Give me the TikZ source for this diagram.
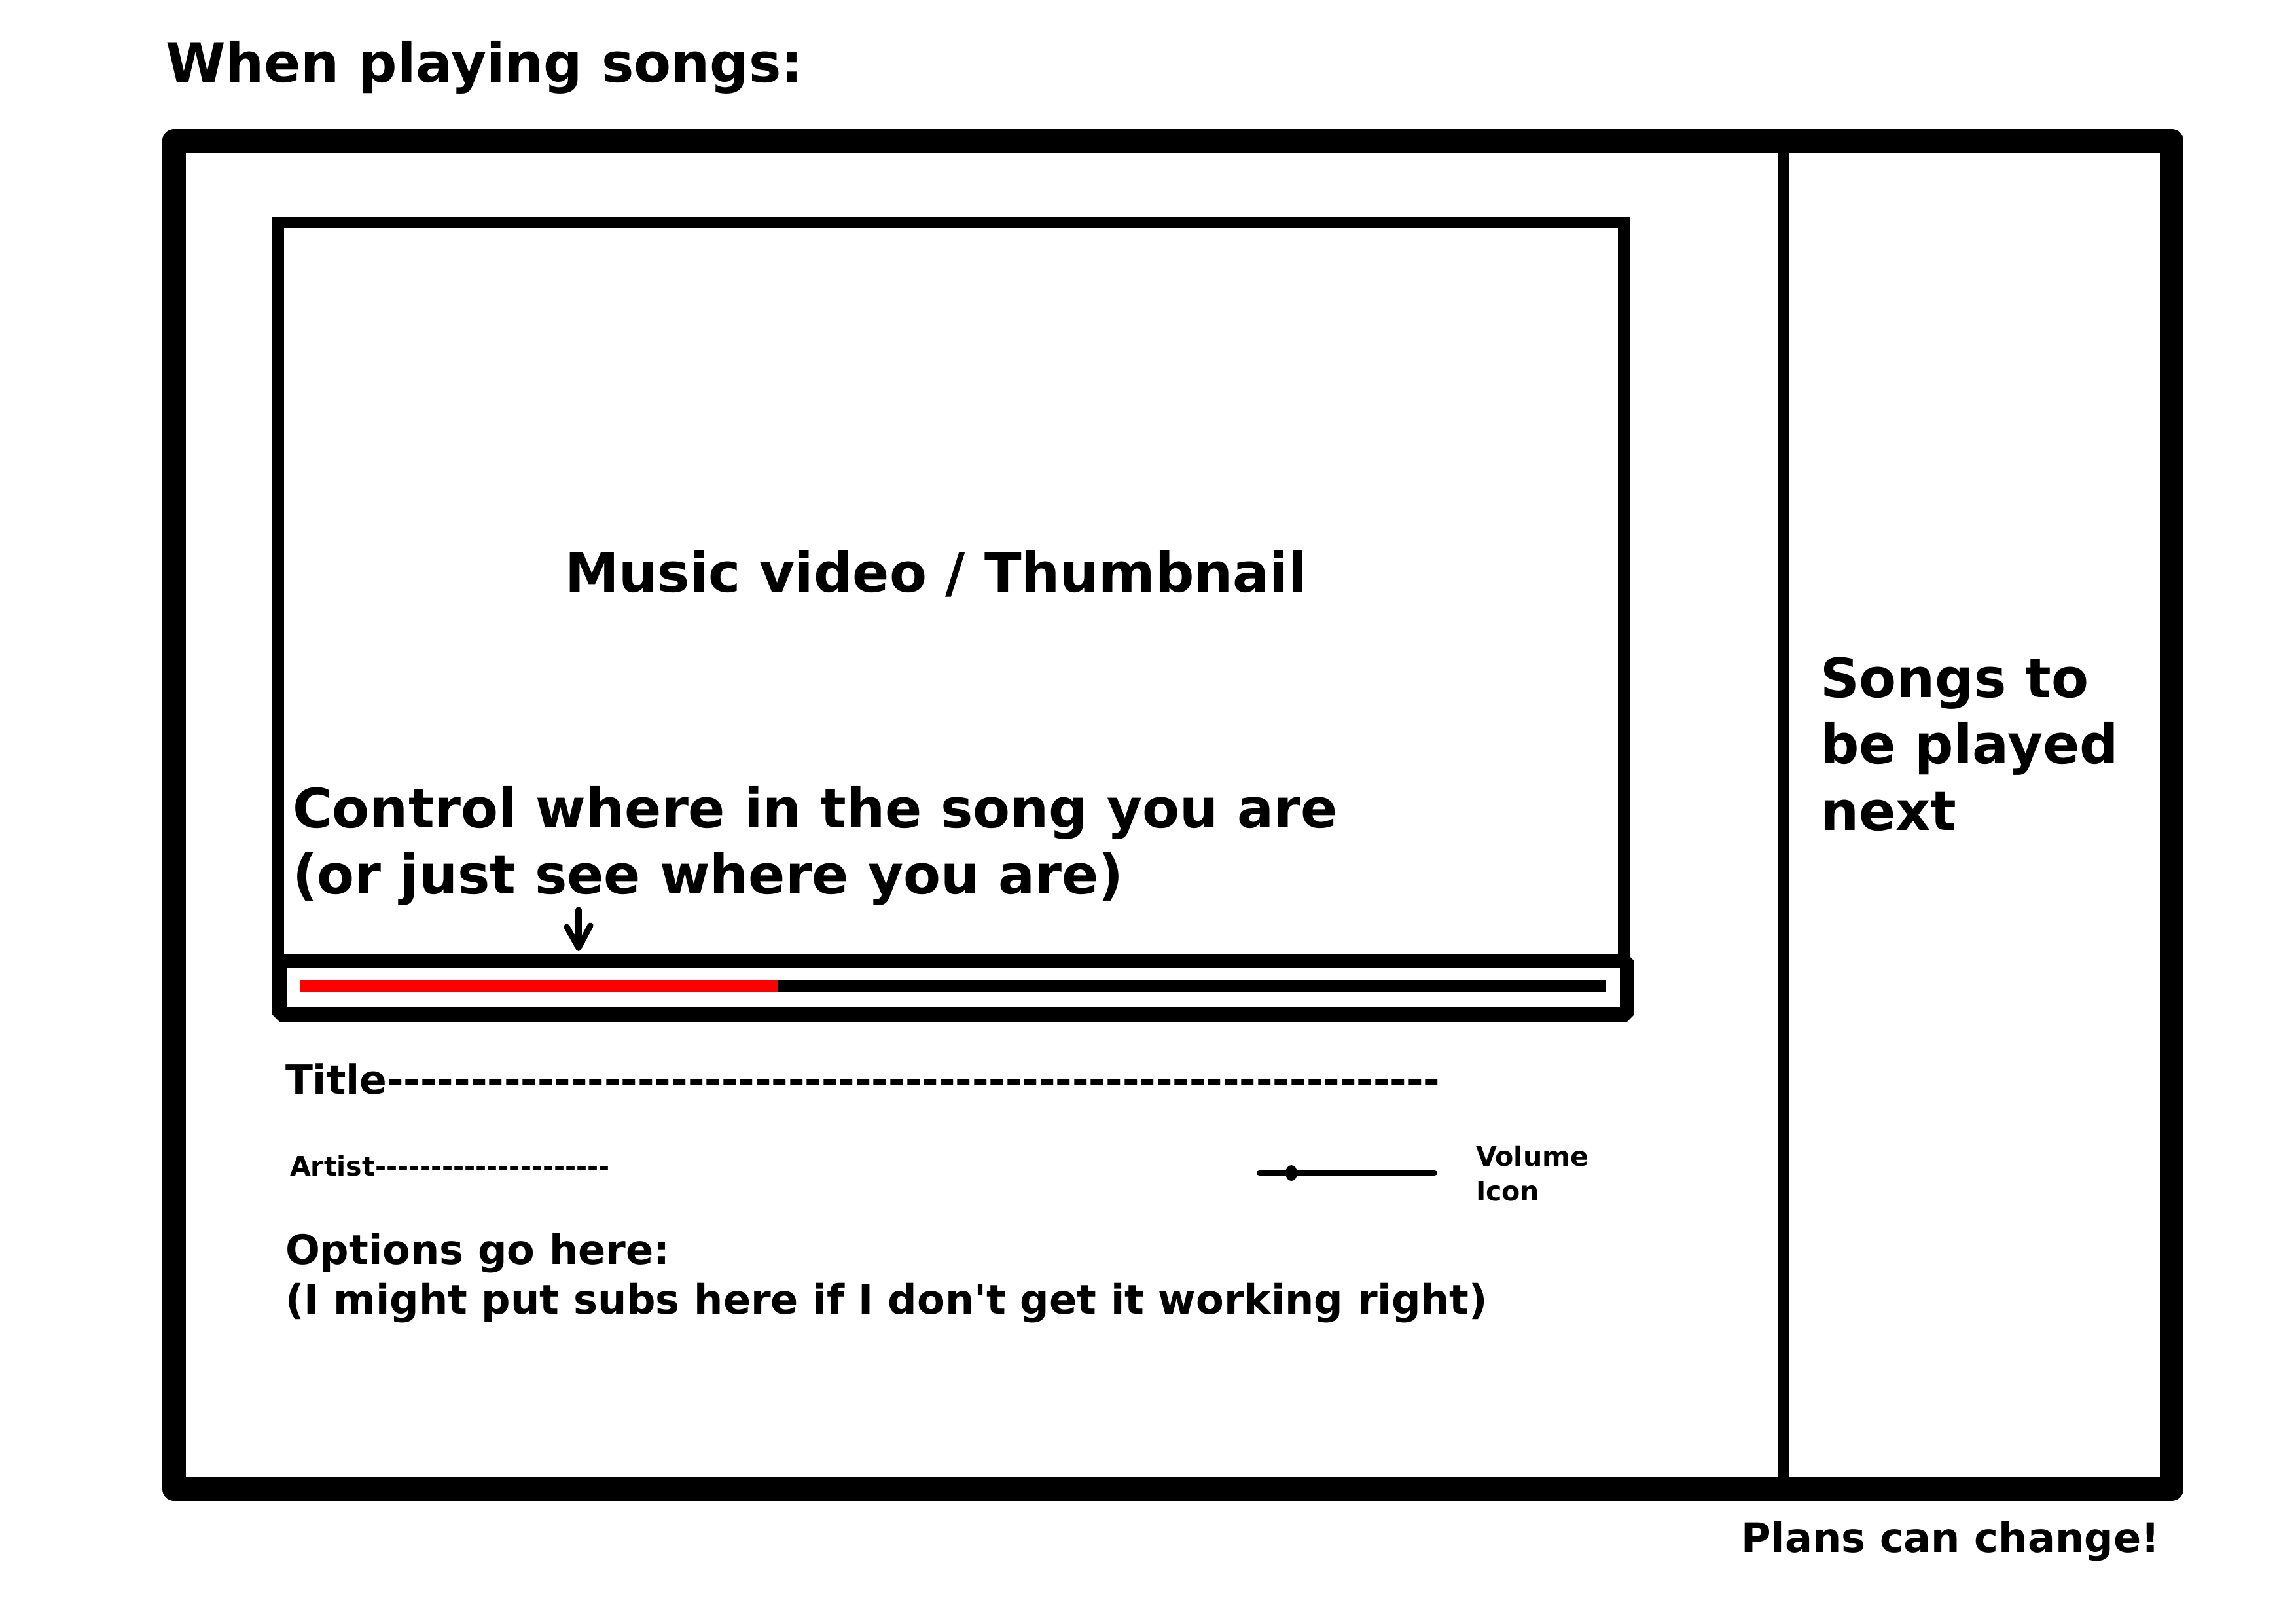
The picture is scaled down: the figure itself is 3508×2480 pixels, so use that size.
\documentclass[tikz,border=0pt]{standalone}
\usepackage{fontspec}
\newfontfamily\dvs{DejaVu Sans}
\begin{document}
\begin{tikzpicture}[x=0.01cm,y=-0.01cm,
  lbl/.style={inner sep=0pt,outer sep=0pt,anchor=base west},
  big/.style={lbl,font=\fontsize{23.6}{28}\dvs\bfseries},
  mid/.style={lbl,font=\fontsize{17.7}{21}\dvs\bfseries},
  small/.style={lbl,font=\fontsize{11.7}{14}\dvs\bfseries},
  frame/.style={line width=10.2pt,line join=round},
  boxline/.style={line width=5.1pt},
  barline/.style={line width=5.1pt}]
\useasboundingbox[fill=white] (0,0) rectangle (3508,2480);
% heading
\node[big] (heading) at (253,125) {When playing songs:};
% outer frame and divider
\draw[frame] (266,215) rectangle (3318,2275);
\draw[boxline] (2725,215) -- (2725,2275);
% video box
\draw[boxline] (425,340) rectangle (2481,1468);
\node[big,anchor=base] (video) at (1430,904) {Music video / Thumbnail};
\node[big] (ctrl1) at (447,1264) {Control where in the song you are};
\node[big] (ctrl2) at (447,1365) {(or just see where you are)};
% progress box
\draw[line width=6.3pt,line join=bevel] (427,1468) rectangle (2486,1550);
\coordinate (pstart) at (459,1506);
\coordinate (pmid) at (1188,1506);
\coordinate (pend) at (2454,1506);
\draw[barline,red] (pstart) -- (pmid);
\draw[barline,black] (pmid) -- (pend);
% arrow
\coordinate (atop) at (884,1390);
\coordinate (atip) at (884,1448);
\draw[line width=2.6pt,line cap=round,line join=round] (atop) -- (atip);
\draw[line width=2.6pt,line cap=round,line join=round] (866,1416) -- (atip) -- (902,1414);
% songs list
\node[big] (songs1) at (2781,1065) {Songs to};
\node[big] (songs2) at (2781,1166) {be played};
\node[big] (songs3) at (2781,1268) {next};
% title / artist
\node[mid,font=\fontsize{17.5}{21}\dvs\bfseries] (title) at (436,1671) {Title---------------------------------------------------------------};
\node[small] (artist) at (443,1796) {Artist---------------------};
% volume
\coordinate (vstart) at (1924,1792);
\coordinate (vend) at (2192,1792);
\draw[line width=2.3pt,line cap=round] (vstart) -- (vend);
\fill (1973,1792) ellipse [x radius=9, y radius=12];
\node[small] (vol1) at (2255,1781) {Volume};
\node[small] (vol2) at (2255,1834) {Icon};
% options
\node[mid] (opt1) at (436,1931) {Options go here:};
\node[mid] (opt2) at (436,2007) {(I might put subs here if I don't get it working right)};
% footer
\node[mid] (plans) at (2660,2371) {Plans can change!};
\end{tikzpicture}
\end{document}
